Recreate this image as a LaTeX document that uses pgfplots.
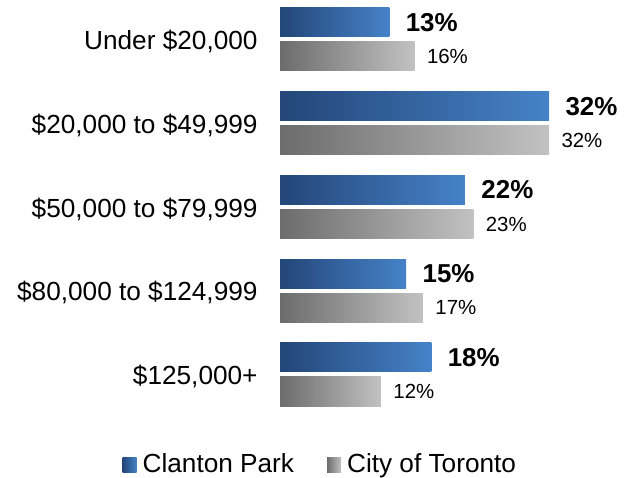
\documentclass[border=0pt]{standalone}
\usepackage{pgfplots}
\pgfplotsset{compat=1.18}
\usepackage{fontspec}
\setmainfont{Liberation Sans}
\definecolor{bluedark}{RGB}{36,70,120}
\definecolor{bluelight}{RGB}{70,130,200}
\definecolor{graydark}{RGB}{108,108,108}
\definecolor{graylight}{RGB}{194,194,194}
\pgfplotsset{
  cpbar/.style={draw=none, left color=bluedark, right color=bluelight, bar shift=17bp,
    every node near coord/.append style={font=\bfseries\fontsize{26}{31}\selectfont, text=black, xshift=13bp}},
  tobar/.style={draw=none, left color=graydark, right color=graylight, bar shift=-17bp,
    every node near coord/.append style={font=\fontsize{20.5}{24}\selectfont, text=black, xshift=9bp}},
}
\begin{document}
\begin{tikzpicture}
\useasboundingbox (0,0) rectangle (630bp,478bp);
\begin{axis}[
  at={(280bp,61.625bp)}, anchor=south west,
  scale only axis, width=336.25bp, height=418.75bp,
  xmin=0, xmax=40, ymin=-0.5, ymax=4.5,
  xbar, bar width=29bp,
  axis line style={draw=none},
  tick style={draw=none},
  xtick=\empty,
  ytick={0,1,2,3,4},
  yticklabels={{\$125,000+},{\$80,000 to \$124,999},{\$50,000 to \$79,999},{\$20,000 to \$49,999},{Under \$20,000}},
  yticklabel style={font=\fontsize{26.3}{31}\selectfont, anchor=east, inner sep=0pt, xshift=-18bp, yshift=-2bp},
  /pgf/number format/assume math mode=true,
  nodes near coords={\pgfmathprintnumber{\pgfplotspointmeta}\%},
  every node near coord/.append style={anchor=west},
  legend style={at={(0.12,-0.114)}, anchor=center, draw=none, fill=none,
    legend columns=2, font=\fontsize{26.3}{31}\selectfont,
    /tikz/every odd column/.append style={column sep=4bp},
    /tikz/every even column/.append style={column sep=31bp}},
  legend image code/.code={\path[#1, draw=none] (0bp,-8bp) rectangle (14bp,7bp);},
]
% Clanton Park (one bar per plot so each bar carries its own gradient)
\addplot[cpbar] coordinates {(13,4)};
\addlegendentry{Clanton Park}
\addplot[tobar] coordinates {(16,4)};
\addlegendentry{City of Toronto}
\addplot[cpbar, forget plot] coordinates {(32,3)};
\addplot[cpbar, forget plot] coordinates {(22,2)};
\addplot[cpbar, forget plot] coordinates {(15,1)};
\addplot[cpbar, forget plot] coordinates {(18,0)};
% City of Toronto
\addplot[tobar, forget plot] coordinates {(32,3)};
\addplot[tobar, forget plot] coordinates {(23,2)};
\addplot[tobar, forget plot] coordinates {(17,1)};
\addplot[tobar, forget plot] coordinates {(12,0)};
\end{axis}
\end{tikzpicture}
\end{document}
